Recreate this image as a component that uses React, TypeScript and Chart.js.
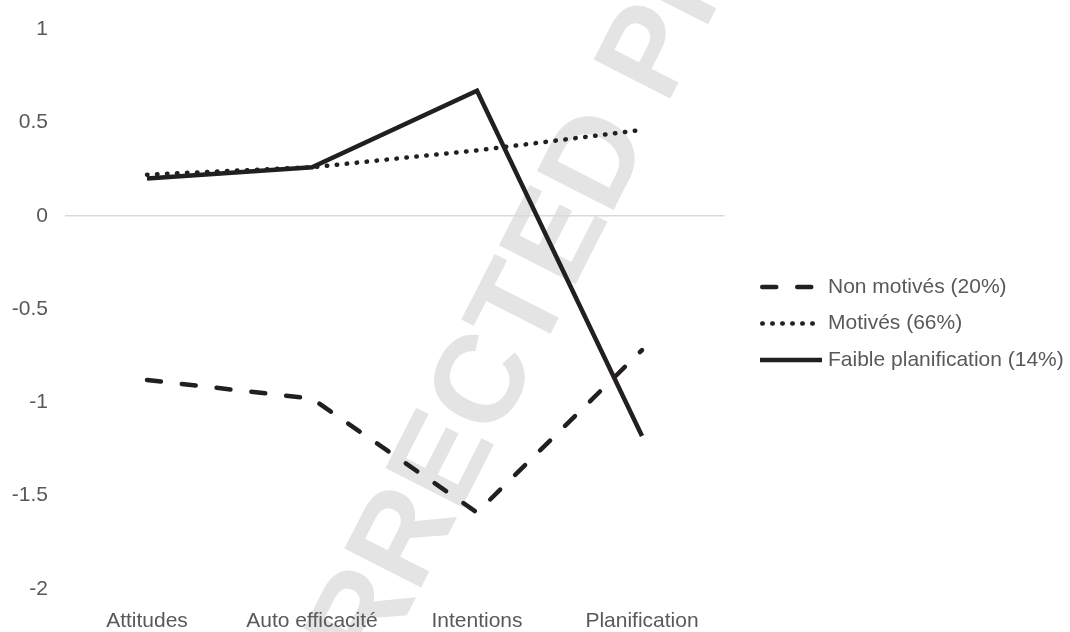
import React, { useEffect, useRef } from 'react';
import { Chart, registerables } from 'chart.js';

Chart.register(...registerables);

// Profile means per latent class (standardised scores)
const categories = ['Attitudes', 'Auto efficacité', 'Intentions', 'Planification'];
const seriesLabels = ['Non motivés (20%)', 'Motivés (66%)', 'Faible planification (14%)'];
const nonMotives = [-0.88, -0.98, -1.59, -0.72];
const motives = [0.22, 0.26, 0.35, 0.46];
const faiblePlanification = [0.2, 0.26, 0.67, -1.18];
const yTicks = [1, 0.5, 0, -0.5, -1, -1.5, -2];
const yTickLabels = ['1', '0.5', '0', '-0.5', '-1', '-1.5', '-2'];
const watermarkText = 'UNCORRECTED PROOF';

const FONT = '"Liberation Sans", Arial, Helvetica, sans-serif';
const INK = '#231f20';
const TEXT = '#595959';

// Large faint diagonal stamp underneath everything else
const watermark = {
  id: 'watermark',
  beforeDraw(chart: any) {
    const { ctx } = chart;
    ctx.save();
    ctx.translate(508, 341);
    ctx.rotate((-63 * Math.PI) / 180);
    ctx.font = `bold 125px ${FONT}`;
    ctx.fillStyle = '#e4e4e4';
    ctx.textAlign = 'center';
    ctx.textBaseline = 'middle';
    ctx.fillText(watermarkText, 0, 0);
    ctx.restore();
  },
};

// Legend on the right with line samples in each series' stroke style
const lineLegend = {
  id: 'lineLegend',
  afterDraw(chart: any) {
    const { ctx } = chart;
    const x0 = chart.chartArea.right + 35.5;
    chart.data.datasets.forEach((ds: any, i: number) => {
      const y = 287 + i * 36.5;
      const dashed = ds.borderDash && ds.borderDash.length > 0;
      const cap = dashed ? ds.borderWidth / 2 : 0;
      ctx.save();
      ctx.strokeStyle = ds.borderColor;
      ctx.lineWidth = ds.borderWidth;
      ctx.setLineDash(ds.borderDash || []);
      ctx.lineCap = ds.borderCapStyle || 'butt';
      ctx.beginPath();
      ctx.moveTo(x0 + cap, y);
      ctx.lineTo(dashed ? x0 + 57 - cap : x0 + 62, y);
      ctx.stroke();
      ctx.setLineDash([]);
      ctx.font = `21px ${FONT}`;
      ctx.fillStyle = TEXT;
      ctx.textAlign = 'left';
      ctx.textBaseline = 'middle';
      ctx.fillText(ds.label, x0 + 68, y);
      ctx.restore();
    });
  },
};

export default function App() {
  const canvasRef = useRef<HTMLCanvasElement>(null);

  useEffect(() => {
    const canvas = canvasRef.current;
    if (!canvas) return;
    const chart = new Chart(canvas, {
      type: 'line',
      data: {
        labels: categories,
        datasets: [
          {
            label: seriesLabels[0],
            data: nonMotives,
            borderColor: INK,
            borderWidth: 4.5,
            borderDash: [14, 21],
            borderCapStyle: 'round',
            borderJoinStyle: 'round',
            pointRadius: 0,
            tension: 0,
            fill: false,
          },
          {
            label: seriesLabels[1],
            data: motives,
            borderColor: INK,
            borderWidth: 4.5,
            borderDash: [0.5, 9.5],
            borderCapStyle: 'round',
            borderJoinStyle: 'round',
            pointRadius: 0,
            tension: 0,
            fill: false,
          },
          {
            label: seriesLabels[2],
            data: faiblePlanification,
            borderColor: INK,
            borderWidth: 4.5,
            borderCapStyle: 'butt',
            borderJoinStyle: 'miter',
            pointRadius: 0,
            tension: 0,
            fill: false,
          },
        ],
      },
      options: {
        animation: false,
        responsive: false,
        devicePixelRatio: 1,
        layout: { padding: { left: 0, top: 27, right: 345.5, bottom: 0 } },
        plugins: {
          legend: { display: false },
          tooltip: { enabled: false },
        },
        scales: {
          x: {
            offset: true,
            grid: { display: false, drawTicks: false },
            border: { display: false },
            ticks: {
              color: TEXT,
              padding: 20,
              font: { family: FONT, size: 21 },
              maxRotation: 0,
              autoSkip: false,
            },
            afterFit: (scale: any) => {
              scale.height = 43;
            },
          },
          y: {
            min: -2,
            max: 1,
            grid: {
              drawTicks: false,
              color: (c: any) => (c.tick && c.tick.value === 0 ? '#d9d9d9' : 'rgba(0,0,0,0)'),
              lineWidth: 1.5,
            },
            border: { display: false },
            afterBuildTicks: (scale: any) => {
              scale.ticks = yTicks.map((v) => ({ value: v }));
            },
            ticks: {
              color: TEXT,
              padding: 16.5,
              font: { family: FONT, size: 21 },
              callback: (v: any) => yTickLabels[yTicks.indexOf(Number(v))],
            },
            afterFit: (scale: any) => {
              scale.width = 64.5;
            },
          },
        },
      },
      plugins: [watermark, lineLegend],
    });
    return () => chart.destroy();
  }, []);

  return (
    <div style={{ position: 'fixed', left: 0, top: 0, width: 1070, height: 632, background: '#ffffff' }}>
      <canvas ref={canvasRef} width={1070} height={632} style={{ display: 'block', width: 1070, height: 632 }} />
    </div>
  );
}
